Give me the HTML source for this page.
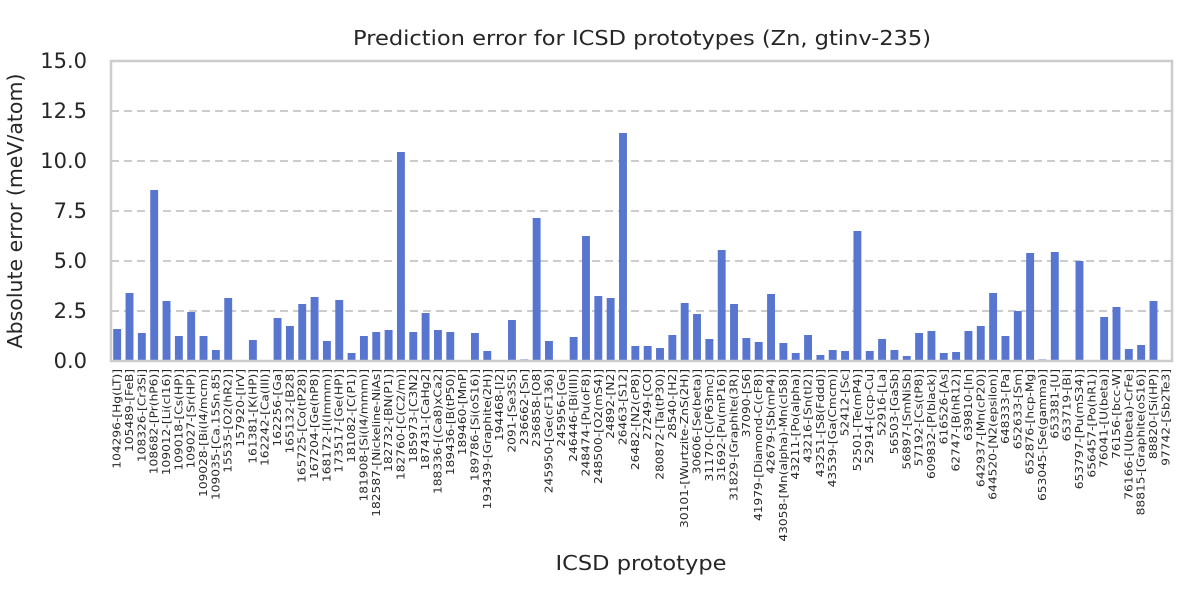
<!DOCTYPE html>
<html><head><meta charset="utf-8"><style>
body{margin:0;background:#fff;}
svg{display:block;font-family:"DejaVu Sans","Liberation Sans",sans-serif;}
</style></head><body>
<svg id="chart" width="1200" height="600" viewBox="0 0 1200 600">
<text transform="translate(642,45) scale(1.1,1)" text-anchor="middle" font-size="20.5" fill="#262626">Prediction error for ICSD prototypes (Zn, gtinv-235)</text>
<g id="grid"></g>
<g id="bars"></g>
<g id="yticks"></g>
<g id="xticks"></g>
<rect x="111" y="61" width="1061" height="300" fill="none" stroke="#cccccc" stroke-width="2.5"/>
<text transform="translate(22,211) rotate(-90)" text-anchor="middle" font-size="20.5" fill="#262626">Absolute error (meV/atom)</text>
<text transform="translate(641,570) scale(1.1,1)" text-anchor="middle" font-size="20.5" fill="#262626">ICSD prototype</text>
</svg>
<script>
const categories = ["104296-[Hg(LT)]","105489-[FeB]","108326-[Cr3Si]","108682-[Pr(hP6)]","109012-[Li(cI16)]","109018-[Cs(HP)]","109027-[Sr(HP)]","109028-[Bi(I4/mcm)]","109035-[Ca.15Sn.85]","15535-[O2(hR2)]","157920-[IrV]","161381-[K(HP)]","162242-[Ca(III)]","162256-[Ga]","165132-[B28]","165725-[Co(tP28)]","167204-[Ge(hP8)]","168172-[I(Immm)]","173517-[Ge(HP)]","181082-[C(P1)]","181908-[Si(I4/mmm)]","182587-[Nickeline-NiAs]","182732-[BN(P1)]","182760-[C(C2/m)]","185973-[C3N2]","187431-[CaHg2]","188336-[(Ca8)xCa2]","189436-[B(tP50)]","189460-[MnP]","189786-[Si(oS16)]","193439-[Graphite(2H)]","194468-[I2]","2091-[Se3S5]","236662-[Sn]","236858-[O8]","245950-[Ge(cF136)]","245956-[Ge]","246446-[Bi(III)]","248474-[Pu(oF8)]","248500-[O2(mS4)]","24892-[N2]","26463-[S12]","26482-[N2(cP8)]","27249-[CO]","280872-[Ta(tP30)]","28540-[H2]","30101-[Wurtzite-ZnS(2H)]","30606-[Se(beta)]","31170-[C(P63mc)]","31692-[Pu(mP16)]","31829-[Graphite(3R)]","37090-[S6]","41979-[Diamond-C(cF8)]","42679-[Sb(mP4)]","43058-[Mn(alpha)-Mn(cI58)]","43211-[Po(alpha)]","43216-[Sn(tI2)]","43251-[S8(Fddd)]","43539-[Ga(Cmcm)]","52412-[Sc]","52501-[Te(mP4)]","52914-[ccp-Cu]","52916-[La]","56503-[GaSb]","56897-[SmNiSb]","57192-[Cs(tP8)]","609832-[P(black)]","616526-[As]","62747-[B(hR12)]","639810-[In]","642937-[Mn(cP20)]","644520-[N2(epsilon)]","648333-[Pa]","652633-[Sm]","652876-[hcp-Mg]","653045-[Se(gamma)]","653381-[U]","653719-[Bi]","653797-[Pu(mS34)]","656457-[Po(hR1)]","76041-[U(beta)]","76156-[bcc-W]","76166-[U(beta)-CrFe]","88815-[Graphite(oS16)]","88820-[Si(HP)]","97742-[Sb2Te3]"];
const errors = [1.6,3.4,1.4,8.55,3.0,1.25,2.45,1.25,0.55,3.15,0,1.05,0,2.15,1.75,2.85,3.2,1.0,3.05,0.4,1.25,1.45,1.55,10.45,1.45,2.4,1.55,1.45,0,1.4,0.5,0,2.05,0.08,7.15,1.0,0,1.2,6.25,3.25,3.15,11.4,0.75,0.75,0.65,1.3,2.9,2.35,1.1,5.55,2.85,1.15,0.95,3.35,0.9,0.4,1.3,0.3,0.55,0.5,6.5,0.5,1.1,0.55,0.25,1.4,1.5,0.4,0.45,1.5,1.75,3.4,1.25,2.5,5.4,0.08,5.45,0,5.0,0,2.2,2.7,0.6,0.8,3.0,0];
const yTicks = [0,2.5,5,7.5,10,12.5,15];
const yTickLabels = ["0.0","2.5","5.0","7.5","10.0","12.5","15.0"];

const NS="http://www.w3.org/2000/svg";
const X0=111,X1=1172,Y0=361,Y1=61,YMAX=15;
const band=(X1-X0)/categories.length;
const xPos=i=>X0+band*(i+0.5);
const yPos=v=>Y0-(v/YMAX)*(Y0-Y1);
function mk(tag,attrs,parent){const e=document.createElementNS(NS,tag);for(const k in attrs)e.setAttribute(k,attrs[k]);parent.appendChild(e);return e;}
const grid=document.getElementById('grid'),bars=document.getElementById('bars'),yt=document.getElementById('yticks'),xt=document.getElementById('xticks');
yTicks.forEach((t,i)=>{
  const y=yPos(t);
  if(t>0&&t<YMAX){
    const l=mk('line',{x1:X0,x2:X1,y1:y,y2:y,stroke:'#cccccc','stroke-width':2,'stroke-dasharray':'8,5'},grid);
    
    
  }
  const tx=mk('text',{x:X0-24,y:y+7,'text-anchor':'end','font-size':21,fill:'#262626'},yt);
  tx.textContent=yTickLabels[i];
  
  
});
const bw=band*0.64;
errors.forEach((v,i)=>{
  const r=mk('rect',{x:xPos(i)-bw/2,y:yPos(v),width:bw,height:Y0-yPos(v),fill:'#5875d0'},bars);
  
  
});
categories.forEach((c,i)=>{
  const x=xPos(i)+3.5;
  const t=mk('text',{transform:`translate(${x},369) rotate(-90) scale(1.2,1)`,'text-anchor':'end','font-size':10.2,fill:'#262626'},xt);
  t.textContent=c;
  
  
});
</script>
</body></html>
